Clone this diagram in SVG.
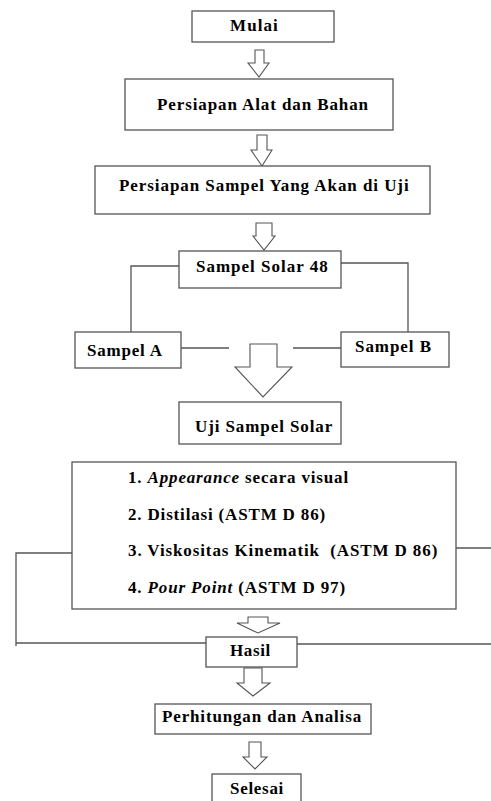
<svg xmlns="http://www.w3.org/2000/svg" width="491" height="801" viewBox="0 0 491 801">
<style>
.box{fill:#fff;stroke:#555;stroke-width:1.3}
.ln{fill:none;stroke:#555;stroke-width:1.3}
.arr{fill:#fff;stroke:#555;stroke-width:1.1;stroke-linejoin:miter}
</style>
<rect width="491" height="801" fill="#fff"/>
<g id="connectors">
<polygon class="arr" points="255,50 264,50 264,63 269,63 259,77 248,63 255,63"/>
<polygon class="arr" points="257,135 267,135 267,150 272,150 262,166 251,150 257,150"/>
<polygon class="arr" points="256,223 272,223 272,236 275,236 264,250 253,236 256,236"/>
<polyline class="ln" points="179,266 131,266 131,332"/>
<polyline class="ln" points="341,263 408,263 408,332"/>
<line class="ln" x1="181" y1="348" x2="229" y2="348"/>
<line class="ln" x1="293" y1="348" x2="341" y2="348"/>
<polygon class="arr" points="250,344 277,344 277,367 292,367 263,397 235,367 250,367"/>
<polyline class="ln" points="72,553 16,553 16,646"/>
<line class="ln" x1="16" y1="643" x2="206" y2="643"/>
<line class="ln" x1="456" y1="548" x2="491" y2="548"/>
<line class="ln" x1="297" y1="644" x2="491" y2="644"/>
<polygon class="arr" points="248,617 268,617 268,623 280,623 258,633 237,623 248,623"/>
<polygon class="arr" points="244,668 262,668 262,683 270,683 253,696 237,683 244,683"/>
<polygon class="arr" points="249,742 261,742 261,757 267,757 255,769 243,757 249,757"/>
</g>
<g id="mulai"><rect class="box" x="192" y="11" width="142" height="31"/><text x="230" y="31" font-family="Liberation Serif" font-weight="bold" font-size="17" letter-spacing="1.1">Mulai</text></g>
<g id="alat"><rect class="box" x="125" y="79" width="268" height="51"/><text x="157" y="110" font-family="Liberation Serif" font-weight="bold" font-size="17" letter-spacing="0.9">Persiapan Alat dan Bahan</text></g>
<g id="sampel-uji"><rect class="box" x="95" y="166" width="335" height="48"/><text x="119" y="191" font-family="Liberation Serif" font-weight="bold" font-size="17" letter-spacing="0.94">Persiapan Sampel Yang Akan di Uji</text></g>
<g id="solar48"><rect class="box" x="179" y="251" width="162" height="37"/><text x="196" y="272" font-family="Liberation Serif" font-weight="bold" font-size="17" letter-spacing="1">Sampel Solar 48</text></g>
<g id="sampelA"><rect class="box" x="75" y="332" width="106" height="36"/><text x="87" y="356" font-family="Liberation Serif" font-weight="bold" font-size="17" letter-spacing="0.8">Sampel A</text></g>
<g id="sampelB"><rect class="box" x="341" y="332" width="108" height="35"/><text x="355" y="352" font-family="Liberation Serif" font-weight="bold" font-size="17" letter-spacing="0.95">Sampel B</text></g>
<g id="uji"><rect class="box" x="179" y="402" width="162" height="42"/><text x="195" y="432" font-family="Liberation Serif" font-weight="bold" font-size="17" letter-spacing="0.9">Uji Sampel Solar</text></g>
<g id="tests"><rect class="box" x="72" y="462" width="384" height="147"/>
<text x="128" y="483" font-family="Liberation Serif" font-weight="bold" font-size="17" letter-spacing="0.84">1. <tspan font-style="italic">Appearance</tspan> secara visual</text>
<text x="128" y="520" font-family="Liberation Serif" font-weight="bold" font-size="17" letter-spacing="0.83">2. Distilasi (ASTM D 86)</text>
<text x="128" y="556" font-family="Liberation Serif" font-weight="bold" font-size="17" letter-spacing="0.89" xml:space="preserve">3. Viskositas Kinematik  (ASTM D 86)</text>
<text x="128" y="593" font-family="Liberation Serif" font-weight="bold" font-size="17" letter-spacing="0.86">4. <tspan font-style="italic">Pour Point</tspan> (ASTM D 97)</text>
</g>
<g id="hasil"><rect class="box" x="206" y="637" width="91" height="30"/><text x="230" y="656" font-family="Liberation Serif" font-weight="bold" font-size="17" letter-spacing="0.64">Hasil</text></g>
<g id="perhitungan"><rect class="box" x="155" y="704" width="216" height="30"/><text x="162" y="722" font-family="Liberation Serif" font-weight="bold" font-size="17" letter-spacing="0.85">Perhitungan dan Analisa</text></g>
<g id="selesai"><rect class="box" x="212" y="774" width="89" height="40"/><text x="230" y="794" font-family="Liberation Serif" font-weight="bold" font-size="17" letter-spacing="0.7">Selesai</text></g>
</svg>
